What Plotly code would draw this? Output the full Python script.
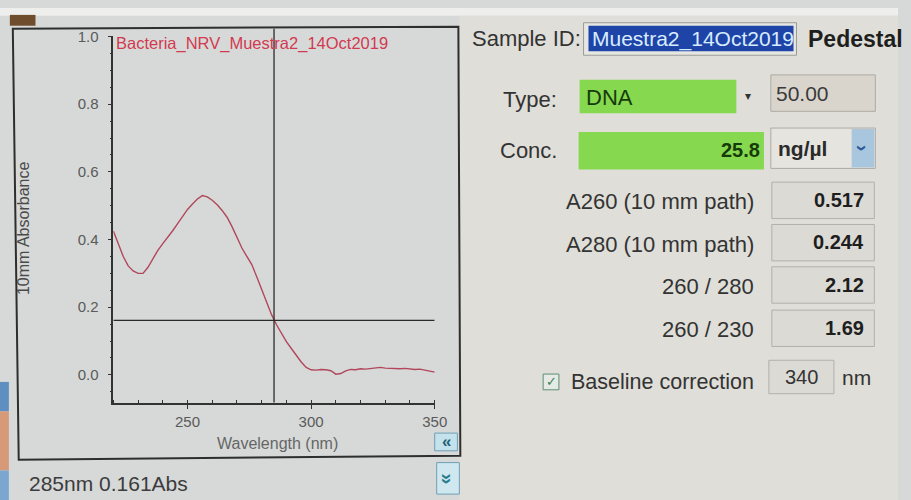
import plotly.graph_objects as go

W, H = 911, 500

# ---------------- data ----------------
wavelength_nm = [220, 222, 224, 226, 228, 230, 232, 234, 236, 238, 240, 242, 244, 246, 248,
                 250, 252, 254, 256, 258, 260, 262, 264, 266, 268, 270, 272, 274, 276, 278,
                 280, 282, 284, 286, 288, 290, 292, 294, 296, 298, 300, 302, 304, 306, 308,
                 310, 312, 314, 316, 318, 320, 322, 324, 326, 328, 330, 332, 334, 336, 338,
                 340, 342, 344, 346, 348, 350]
absorbance = [0.425, 0.385, 0.350, 0.322, 0.307, 0.300, 0.300, 0.318, 0.345, 0.368, 0.388, 0.406,
              0.426, 0.447, 0.468, 0.489, 0.505, 0.520, 0.530, 0.526, 0.516, 0.503, 0.486, 0.466,
              0.438, 0.405, 0.375, 0.350, 0.326, 0.290, 0.252, 0.214, 0.178, 0.148, 0.122, 0.098,
              0.078, 0.058, 0.038, 0.022, 0.015, 0.014, 0.016, 0.015, 0.012, 0.002, 0.004, 0.012,
              0.016, 0.015, 0.018, 0.017, 0.019, 0.021, 0.022, 0.020, 0.019, 0.020, 0.018, 0.019,
              0.017, 0.016, 0.017, 0.014, 0.010, 0.008]

sample_name = "Bacteria_NRV_Muestra2_14Oct2019"
cursor_nm = 285
cursor_abs = 0.161
y_tick_vals = [0.0, 0.2, 0.4, 0.6, 0.8, 1.0]
y_tick_text = ["0.0", "0.2", "0.4", "0.6", "0.8", "1.0"]
x_tick_vals = [250, 300, 350]
x_tick_text = ["250", "300", "350"]
x_title = "Wavelength (nm)"
y_title = "10mm Absorbance"

sample_id = "Muestra2_14Oct2019"
nucleic_type = "DNA"
factor_value = "50.00"
conc_value = "25.8"
conc_unit = "ng/µl"
result_labels = ["A260 (10 mm path)", "A280 (10 mm path)", "260 / 280", "260 / 230"]
result_values = ["0.517", "0.244", "2.12", "1.69"]
baseline_nm = "340"
status_text = f"{cursor_nm}nm {cursor_abs:.3f}Abs"

# ---------------- helpers ----------------
FONT = "Liberation Sans, Arial, sans-serif"


def X(px):
    return px / W


def Y(py):
    return 1 - py / H


shapes = []
annotations = []


def rect(x0, y0, x1, y1, fill, line=None, lw=1, layer="below"):
    shapes.append(dict(type="rect", xref="paper", yref="paper",
                       x0=X(x0), x1=X(x1), y0=Y(y1), y1=Y(y0),
                       fillcolor=fill, layer=layer,
                       line=dict(color=line if line else fill, width=lw if line else 0)))


def text(px, py, s, size=20, color="#3a3a3a", anchor="left", bold=False, angle=0):
    annotations.append(dict(xref="paper", yref="paper", x=X(px), y=Y(py),
                            text=f"<b>{s}</b>" if bold else s, showarrow=False,
                            xanchor=anchor, yanchor="middle", textangle=angle,
                            font=dict(family=FONT, size=size, color=color)))


# ---------------- background / panels ----------------
rect(0, 0, W, 8, "#eeeeec")                       # top white strip
rect(10, 7, 36, 18, "#6e4c2c")                    # brown corner
rect(466, 8, W, H, "#dfded8")                     # right panel
rect(0, 380, 9, 410, "#5e8fc0")                   # left edge photo strips
rect(0, 410, 9, 470, "#d79a78")
rect(0, 470, 9, 500, "#7aa6cf")

# left panel frame (slightly tilted as in the photo)
shapes.append(dict(type="path", xref="paper", yref="paper", layer="below",
                   path=f"M {X(13)},{Y(21)} L {X(465)},{Y(19)} L {X(467)},{Y(455)} L {X(19)},{Y(459)} Z",
                   line=dict(color="#2e2e2e", width=2), fillcolor="rgba(0,0,0,0)"))

# buttons
rect(441, 432, 464, 450, "#c4e2ec", "#6f9fb5", 1, layer="above")
text(452.5, 441, "«", size=17, color="#1f5f7a", anchor="center", bold=True)
rect(443, 462, 466, 494, "#cfe7ef", "#6f9fb5", 1, layer="above")
text(454.5, 478, "»", size=20, color="#2a7d8f", anchor="center", bold=True, angle=90)

# status bar
text(27, 483, status_text, size=21, color="#3c3c3c")

# ---------------- plot texts ----------------
text(116, 36, sample_name, size=16.5, color="#d23a50")
text(24, 224, y_title, size=16, color="#4a4a4a", anchor="center", angle=-90)
text(282, 443, x_title, size=16, color="#666666", anchor="center")

# ---------------- right panel ----------------
text(477, 31, "Sample ID:", size=22, color="#333333")
rect(592, 15, 808, 48, "#e6e6e2", "#9a9a96", 1, layer="above")
rect(597, 18, 805, 44, "#1f44a8", layer="above")
text(599, 31, sample_id, size=21, color="#d8ecff")
text(818, 31, "Pedestal", size=23, color="#1e1e1e", bold=True)

text(567, 93, "Type:", size=22, color="#333333", anchor="right")
rect(588, 73, 747, 107, "#86d84e", layer="above")
text(592, 91, nucleic_type, size=22, color="#163a0c")
text(759, 89, "▾", size=12, color="#333333", anchor="center")
rect(782, 68, 888, 105, "#d9d5cd", "#aeaaa2", 1, layer="above")
text(785, 87, factor_value, size=21, color="#3a3a3a")

text(567, 145, "Conc.", size=22, color="#333333", anchor="right")
rect(587, 126, 775, 164, "#86d84e", layer="above")
text(773, 144, conc_value, size=20, color="#163a0c", anchor="right", bold=True)
rect(782, 122, 888, 163, "#e6e4de", "#aeaaa2", 1, layer="above")
text(787, 143, conc_unit, size=21, color="#2a2a2a", bold=True)
rect(864, 123, 887, 162, "#a8c6de", layer="above")
text(875.5, 142, "›", size=20, color="#2b5a9a", anchor="center", bold=True, angle=90)

row_y = [197, 240, 283, 327]
for lab, val, ry in zip(result_labels, result_values, row_y):
    text(767, ry, lab, size=22, color="#333333", anchor="right")
    rect(783, ry - 20, 887, ry + 17, "#dcdad4", "#b2b0aa", 1, layer="above")
    text(879, ry - 2, val, size=20, color="#1e1e1e", anchor="right", bold=True)

rect(551, 372, 567, 388, "#e4ebe6", "#5f8d70", 1, layer="above")
text(559, 380, "✓", size=13, color="#3f7d52", anchor="center")
text(577, 380, "Baseline correction", size=21.5, color="#333333")
rect(780, 358, 846, 392, "#dcdad4", "#b2b0aa", 1, layer="above")
text(813, 375, baseline_nm, size=20, color="#333333", anchor="center")
text(869, 375, "nm", size=21, color="#333333", anchor="center")

# ---------------- spectrum ----------------
fig = go.Figure()
fig.add_trace(go.Scatter(x=wavelength_nm, y=absorbance, mode="lines",
                         line=dict(color="#b2475c", width=1.4), hoverinfo="skip",
                         showlegend=False))

# cursor cross-hair
shapes.append(dict(type="line", xref="x", yref="paper", x0=cursor_nm, x1=cursor_nm,
                   y0=Y(401), y1=Y(21), line=dict(color="#2a2a2a", width=1.3), layer="above"))
shapes.append(dict(type="line", xref="x", yref="y", x0=wavelength_nm[0], x1=wavelength_nm[-1],
                   y0=cursor_abs, y1=cursor_abs, line=dict(color="#2a2a2a", width=1.3), layer="above"))

axis_font = dict(family=FONT, size=15, color="#5a5a5a")
fig.update_layout(
    width=W, height=H,
    margin=dict(l=0, r=0, t=0, b=0),
    paper_bgcolor="#d6d9d8",
    plot_bgcolor="rgba(0,0,0,0)",
    showlegend=False,
    shapes=shapes,
    annotations=annotations,
    xaxis=dict(domain=[X(115), X(441)], range=[220, 350], showgrid=False, zeroline=False,
               showline=True, linecolor="#333333", linewidth=1.5,
               tickvals=x_tick_vals, ticktext=x_tick_text, ticks="outside", ticklen=5,
               tickcolor="#333333", tickfont=axis_font,
               minor=dict(dtick=10, tick0=220, ticks="inside", ticklen=3, tickcolor="#333333")),
    yaxis=dict(domain=[Y(401), Y(28)], range=[-0.082, 1.003], showgrid=False, zeroline=False,
               showline=True, linecolor="#333333", linewidth=1.5,
               tickvals=y_tick_vals, ticktext=y_tick_text, ticks="outside", ticklen=4,
               tickcolor="#333333", tickfont=axis_font, ticklabelstandoff=6,
               minor=dict(dtick=0.05, tick0=0, ticks="outside", ticklen=2, tickcolor="#333333")),
)

fig.write_html("out.html", config={"displayModeBar": False},
               post_script="document.body.style.margin='0px';document.body.style.overflow='hidden';")
